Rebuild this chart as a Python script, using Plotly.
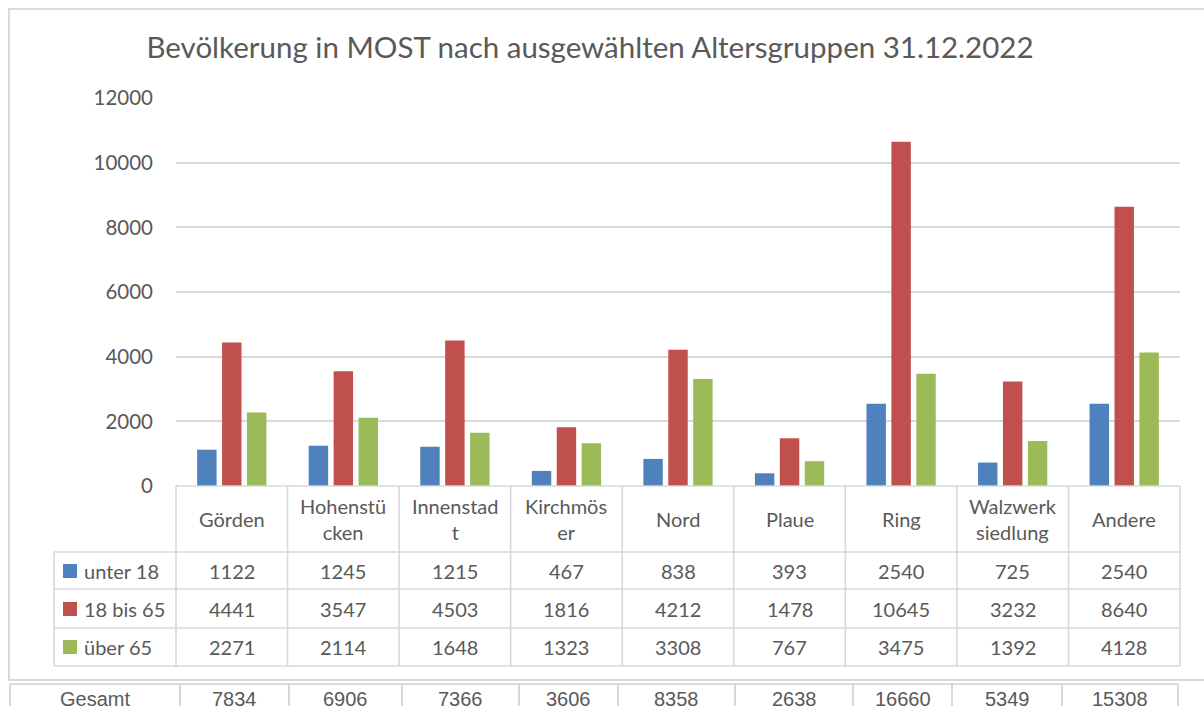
import plotly.graph_objects as go

# ---------------- data ----------------
categories = ["Görden", "Hohenstücken", "Innenstadt", "Kirchmöser", "Nord",
              "Plaue", "Ring", "Walzwerksiedlung", "Andere"]
header_labels = ["Görden", "Hohenstü<br>cken", "Innenstad<br>t", "Kirchmös<br>er", "Nord",
                 "Plaue", "Ring", "Walzwerk<br>siedlung", "Andere"]
series_names = ["unter 18", "18 bis 65", "über 65"]
unter_18 = [1122, 1245, 1215, 467, 838, 393, 2540, 725, 2540]
bis_65 = [4441, 3547, 4503, 1816, 4212, 1478, 10645, 3232, 8640]
ueber_65 = [2271, 2114, 1648, 1323, 3308, 767, 3475, 1392, 4128]
gesamt_label = "Gesamt"
gesamt = [7834, 6906, 7366, 3606, 8358, 2638, 16660, 5349, 15308]
y_ticks = [0, 2000, 4000, 6000, 8000, 10000, 12000]
title_text = "Bevölkerung in MOST nach ausgewählten Altersgruppen 31.12.2022"

colors = ["#4f81bd", "#c0504d", "#9bbb59"]
series_values = [unter_18, bis_65, ueber_65]

# ---------------- layout geometry (pixels) ----------------
W, H = 1204, 706
PL, PR, PT, PB = 176, 1180, 98, 486   # plot area
TXT = "#595959"
GRID = "#d9d9d9"
FONT = "Lato"


def px(p):
    return (p - PL) / (PR - PL)


def py(p):
    return (PB - p) / (PB - PT)


fig = go.Figure()
for name, vals, col in zip(series_names, series_values, colors):
    fig.add_trace(go.Bar(x=list(range(len(categories))), y=vals, name=name,
                         marker=dict(color=col, line=dict(width=0)),
                         hovertext=categories))

shapes = []
line_style = dict(color=GRID, width=1.6)

# outer chart frame
shapes.append(dict(type="rect", xref="paper", yref="paper",
                   x0=px(9), x1=px(1215), y0=py(9), y1=py(680),
                   line=dict(color=GRID, width=2), fillcolor="rgba(0,0,0,0)", layer="below"))

# data table
row_tops = [486, 552, 589, 628, 666]
ncat = len(categories)
col_w = (PR - PL) / ncat
shapes.append(dict(type="line", xref="paper", yref="paper",
                   x0=px(PL), x1=px(PR), y0=py(486), y1=py(486), line=line_style))
for yy in row_tops[1:]:
    shapes.append(dict(type="line", xref="paper", yref="paper",
                       x0=px(54), x1=px(PR), y0=py(yy), y1=py(yy), line=line_style))
shapes.append(dict(type="line", xref="paper", yref="paper",
                   x0=px(54), x1=px(54), y0=py(552), y1=py(666), line=line_style))
for i in range(ncat + 1):
    xx = PL + i * col_w
    shapes.append(dict(type="line", xref="paper", yref="paper",
                       x0=px(xx), x1=px(xx), y0=py(486), y1=py(666), line=line_style))

annotations = []
for i, lab in enumerate(header_labels):
    annotations.append(dict(x=i, xref="x", y=py(519), yref="paper", text=lab,
                            showarrow=False, xanchor="center", yanchor="middle",
                            font=dict(family=FONT, size=20, color=TXT)))
row_centers = [571, 609, 647]
for r, (name, vals, col) in enumerate(zip(series_names, series_values, colors)):
    yc = row_centers[r]
    shapes.append(dict(type="rect", xref="paper", yref="paper",
                       x0=px(63), x1=px(77), y0=py(yc - 7), y1=py(yc + 7),
                       fillcolor=col, line=dict(width=0)))
    annotations.append(dict(x=px(82), xref="paper", y=py(yc), yref="paper", text=name,
                            showarrow=False, xanchor="left", yanchor="middle",
                            font=dict(family=FONT, size=20, color=TXT)))
    for i, v in enumerate(vals):
        annotations.append(dict(x=i, xref="x", y=py(yc), yref="paper", text=str(v),
                                showarrow=False, xanchor="center", yanchor="middle",
                                font=dict(family=FONT, size=20, color=TXT)))

# Gesamt table (separate, cut off at bottom)
g_bounds = [10, 180, 289, 402, 519, 618, 735, 853, 952, 1062, 1178]
g_line = dict(color="#cfcfcf", width=1.6)
shapes.append(dict(type="line", xref="paper", yref="paper",
                   x0=px(10), x1=px(1178), y0=py(684), y1=py(684), line=g_line))
for xx in g_bounds:
    shapes.append(dict(type="line", xref="paper", yref="paper",
                       x0=px(xx), x1=px(xx), y0=py(684), y1=py(740), line=g_line))
g_labels = [gesamt_label] + [str(v) for v in gesamt]
for k, lab in enumerate(g_labels):
    xc = (g_bounds[k] + g_bounds[k + 1]) / 2
    annotations.append(dict(x=px(xc), xref="paper", y=py(699), yref="paper", text=lab,
                            showarrow=False, xanchor="center", yanchor="middle",
                            font=dict(family="Liberation Sans, Arial", size=20, color=TXT)))

fig.update_layout(
    width=W, height=H, autosize=False,
    margin=dict(l=PL, r=W - PR, t=PT, b=H - PB, pad=0),
    paper_bgcolor="white", plot_bgcolor="white",
    showlegend=False,
    barmode="group", bargap=0.33, bargroupgap=0.22,
    title=dict(text=title_text, x=590 / W, xanchor="center", xref="container",
               y=1 - 48 / H, yanchor="middle",
               font=dict(family=FONT, size=29.5, color=TXT)),
    xaxis=dict(range=[-0.5, ncat - 0.5], showticklabels=False, showgrid=False,
               zeroline=False, showline=False, ticks=""),
    yaxis=dict(range=[0, 12000], tickvals=y_ticks, ticktext=[str(t) for t in y_ticks],
               showgrid=True, gridcolor=GRID, gridwidth=1.6, zeroline=False,
               showline=False, ticks="", ticklabelstandoff=22,
               tickfont=dict(family=FONT, size=20.5, color=TXT)),
    shapes=shapes, annotations=annotations,
)

fig.write_html("out.html", config={"displayModeBar": False},
               post_script="document.body.style.margin='0';document.body.style.overflow='hidden';")
